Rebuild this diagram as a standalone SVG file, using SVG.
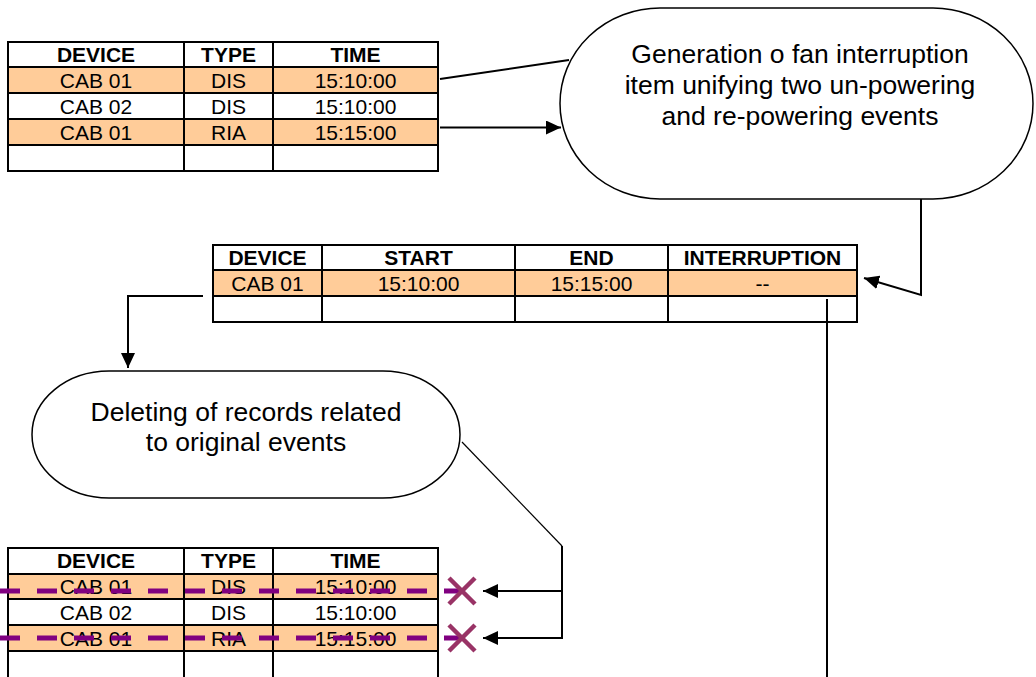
<svg xmlns="http://www.w3.org/2000/svg" width="1036" height="677" viewBox="0 0 1036 677">
<style>
text{font-family:"Liberation Sans",Arial,sans-serif;fill:#000}
.th{font-size:21px;font-weight:bold;text-anchor:middle}
.td{font-size:21px;text-anchor:middle}
.bt{font-size:26.5px;text-anchor:middle}
.grid{fill:none;stroke:#000;stroke-width:2}
.hl{fill:#FFCC99}
.bub{fill:#fff;stroke:#000;stroke-width:1.5}
.conn{fill:none;stroke:#000;stroke-width:2}
.thin{fill:none;stroke:#000;stroke-width:1.2}
.strike{stroke:#800080;stroke-width:5;stroke-dasharray:20 17;fill:none}
.xm{stroke:#993366;stroke-width:4.5;fill:none}
</style>
<defs>
<marker id="ah" markerUnits="userSpaceOnUse" markerWidth="15" markerHeight="14" refX="15" refY="7" orient="auto">
<path d="M0,0 L15,7 L0,14 z" fill="#000"/>
</marker>
</defs>
<rect width="1036" height="677" fill="#fff"/>

<g id="table-events">
<rect class="hl" x="8" y="67" width="430" height="26"/>
<rect class="hl" x="8" y="119" width="430" height="26"/>
<path class="grid" d="M8,42 H438 V171 H8 Z M8,67 H438 M8,93 H438 M8,119 H438 M8,145 H438 M184,42 V171 M273,42 V171"/>
<text class="th" x="96" y="62">DEVICE</text>
<text class="th" x="228.5" y="62">TYPE</text>
<text class="th" x="355.5" y="62">TIME</text>
<text class="td" x="96" y="88">CAB 01</text>
<text class="td" x="228.5" y="88">DIS</text>
<text class="td" x="355.5" y="88">15:10:00</text>
<text class="td" x="96" y="114">CAB 02</text>
<text class="td" x="228.5" y="114">DIS</text>
<text class="td" x="355.5" y="114">15:10:00</text>
<text class="td" x="96" y="140">CAB 01</text>
<text class="td" x="228.5" y="140">RIA</text>
<text class="td" x="355.5" y="140">15:15:00</text>
</g>

<g id="bubble-generation">
<rect class="bub" x="560" y="8" width="473" height="191" rx="100" ry="95.5"/>
<text class="bt" x="800" y="63">Generation o fan interruption</text>
<text class="bt" x="800" y="94">item unifying two un-powering</text>
<text class="bt" x="800" y="125">and re-powering events</text>
</g>

<g id="table-interruption">
<rect class="hl" x="213" y="270" width="644" height="26"/>
<path class="grid" d="M213,245 H857 V322 H213 Z M213,270 H857 M213,296 H857 M322,245 V322 M515,245 V322 M668,245 V322"/>
<text class="th" x="267.5" y="265">DEVICE</text>
<text class="th" x="418.5" y="265">START</text>
<text class="th" x="591.5" y="265">END</text>
<text class="th" x="762.5" y="265">INTERRUPTION</text>
<text class="td" x="267.5" y="291">CAB 01</text>
<text class="td" x="418.5" y="291">15:10:00</text>
<text class="td" x="591.5" y="291">15:15:00</text>
<text class="td" x="762.5" y="291">--</text>
</g>

<g id="bubble-deleting">
<rect class="bub" x="32" y="371" width="428" height="127" rx="77" ry="63.5"/>
<text class="bt" x="246" y="421">Deleting of records related</text>
<text class="bt" x="246" y="451">to original events</text>
</g>

<g id="table-deleted">
<rect class="hl" x="8" y="574" width="430" height="25"/>
<rect class="hl" x="8" y="625" width="430" height="26"/>
<path class="grid" d="M8,680 V548 H438 V680 M8,574 H438 M8,599 H438 M8,625 H438 M8,651 H438 M184,548 V680 M273,548 V680"/>
<text class="th" x="96" y="568">DEVICE</text>
<text class="th" x="228.5" y="568">TYPE</text>
<text class="th" x="355.5" y="568">TIME</text>
<text class="td" x="96" y="594">CAB 01</text>
<text class="td" x="228.5" y="594">DIS</text>
<text class="td" x="355.5" y="594">15:10:00</text>
<text class="td" x="96" y="620">CAB 02</text>
<text class="td" x="228.5" y="620">DIS</text>
<text class="td" x="355.5" y="620">15:10:00</text>
<text class="td" x="96" y="646">CAB 01</text>
<text class="td" x="228.5" y="646">RIA</text>
<text class="td" x="355.5" y="646">15:15:00</text>
</g>

<g id="strike-marks">
<path class="strike" d="M0,591 H470 M0,638 H470"/>
<path class="xm" d="M449,578 L475,604 M475,578 L449,604 M449,625 L475,651 M475,625 L449,651"/>
</g>

<g id="connectors">
<path class="conn" d="M440,79 L569,60"/>
<path class="conn" d="M440,127.5 L561,127.5" marker-end="url(#ah)"/>
<path class="conn" d="M921,199 V295 L864,278" marker-end="url(#ah)"/>
<path class="conn" d="M203,296 H128 V368" marker-end="url(#ah)"/>
<path class="thin" d="M462,442 L562,546"/>
<path class="conn" d="M562,546 V638 H483" marker-end="url(#ah)"/>
<path class="conn" d="M562,591 H483" marker-end="url(#ah)"/>
<path class="conn" d="M827,299 V680"/>
</g>
</svg>
